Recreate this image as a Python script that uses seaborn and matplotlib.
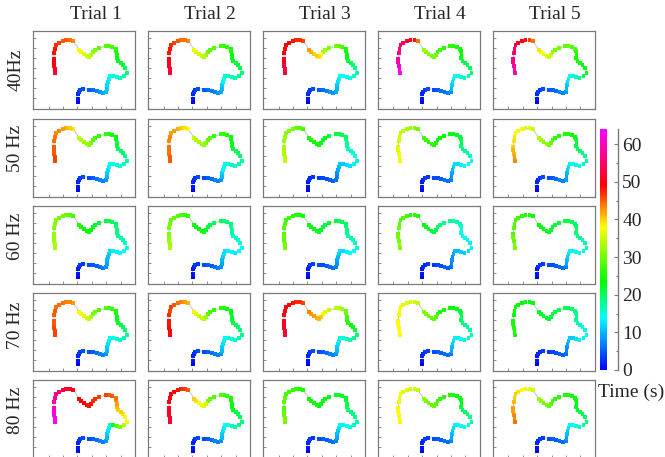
import matplotlib
matplotlib.use("Agg")
import matplotlib.pyplot as plt
from matplotlib.colors import LinearSegmentedColormap, Normalize
from matplotlib.cm import ScalarMappable
from matplotlib.ticker import MultipleLocator
import pandas as pd
import seaborn as sns

# Tracked route (same layout in every panel); y grows downward
path_x = [134, 134, 134, 137, 142, 151, 169, 181, 191, 201, 211, 220, 222, 223,
          225, 228, 231, 241, 251, 261, 273, 282, 277, 270, 263, 255, 251, 252,
          250, 248, 238, 227, 218, 199, 187, 180, 175, 169, 162, 153, 145, 139,
          121, 111, 99, 89, 77, 69, 66, 64, 62, 62, 64, 66, 67]
path_y = [215, 205, 190, 182, 176, 173, 176, 178, 181, 184, 186, 184, 173, 163,
          153, 143, 135, 134, 139, 141, 135, 125, 110, 103, 96, 91, 82, 71, 61,
          53, 47, 46, 46, 51, 57, 63, 72, 79, 76, 69, 62, 56, 31, 28, 28, 31, 36,
          43, 53, 65, 83, 94, 105, 115, 125]

freq_labels = ["40Hz", "50 Hz", "60 Hz", "70 Hz", "80 Hz"]
trial_labels = ["Trial 1", "Trial 2", "Trial 3", "Trial 4", "Trial 5"]

# Time stamp (s) of every point along the route, one list per trial
times_40hz = [
    [0, 1, 2, 3, 4, 4, 5, 6, 7, 8, 9, 10, 11, 12, 12, 13, 14, 15, 15, 16, 17, 19, 20, 21, 22, 22, 23, 24, 25, 26, 27, 28, 28, 29, 30, 31, 33, 34, 35, 36, 37, 38, 43, 44, 45, 45, 46, 47, 48, 48, 49, 50, 50, 51, 52],
    [0, 1, 2, 3, 3, 4, 5, 6, 7, 7, 8, 9, 10, 11, 13, 14, 15, 16, 16, 17, 18, 19, 20, 21, 21, 22, 23, 23, 24, 25, 26, 26, 27, 28, 28, 29, 32, 33, 34, 35, 36, 37, 43, 44, 44, 45, 46, 47, 48, 48, 49, 50, 51, 51, 52],
    [0, 1, 2, 3, 3, 4, 5, 6, 7, 8, 8, 9, 10, 11, 12, 13, 14, 14, 15, 15, 16, 17, 18, 19, 20, 21, 22, 23, 24, 25, 27, 28, 30, 31, 32, 33, 38, 39, 40, 40, 41, 42, 46, 47, 47, 48, 49, 49, 50, 50, 51, 51, 52, 52, 52],
    [0, 1, 2, 2, 3, 4, 4, 5, 6, 6, 7, 8, 10, 11, 12, 13, 14, 14, 15, 16, 17, 19, 20, 20, 21, 21, 22, 23, 23, 24, 25, 25, 26, 26, 27, 27, 29, 30, 30, 31, 31, 32, 44, 48, 51, 52, 54, 55, 56, 57, 58, 59, 60, 62, 63],
    [0, 1, 2, 3, 3, 4, 5, 5, 6, 7, 7, 8, 10, 11, 12, 13, 14, 15, 16, 18, 20, 22, 23, 23, 24, 24, 25, 25, 26, 27, 28, 29, 29, 30, 30, 31, 34, 35, 36, 37, 38, 39, 44, 46, 48, 50, 52, 53, 54, 55, 56, 57, 58, 59, 60],
]
times_50hz = [
    [0, 1, 2, 2, 3, 4, 4, 5, 6, 7, 7, 8, 10, 11, 12, 13, 14, 14, 15, 15, 16, 17, 18, 19, 19, 20, 21, 21, 22, 23, 24, 25, 26, 26, 27, 28, 30, 31, 32, 32, 33, 34, 39, 40, 41, 42, 43, 43, 44, 44, 45, 45, 45, 46, 46],
    [0, 1, 2, 2, 3, 4, 4, 5, 6, 7, 7, 8, 10, 11, 13, 14, 15, 15, 16, 16, 17, 18, 19, 20, 20, 21, 22, 22, 23, 24, 25, 26, 27, 27, 28, 29, 31, 31, 32, 33, 33, 34, 38, 39, 40, 41, 42, 42, 43, 43, 44, 44, 44, 45, 45],
    [0, 1, 1, 2, 2, 3, 3, 4, 4, 5, 5, 6, 7, 8, 9, 10, 11, 11, 12, 12, 13, 13, 14, 15, 16, 16, 17, 18, 19, 20, 20, 21, 21, 21, 22, 22, 23, 23, 24, 24, 25, 25, 27, 28, 29, 30, 31, 31, 32, 32, 33, 33, 33, 34, 34],
    [0, 1, 1, 2, 3, 3, 4, 4, 5, 6, 6, 7, 8, 9, 10, 11, 12, 12, 13, 14, 14, 15, 16, 17, 18, 19, 19, 20, 21, 22, 22, 23, 23, 23, 24, 24, 25, 25, 26, 26, 27, 27, 30, 31, 32, 33, 34, 34, 35, 35, 36, 36, 37, 37, 38],
    [0, 1, 2, 2, 3, 4, 4, 5, 6, 7, 7, 8, 9, 10, 11, 12, 13, 14, 15, 15, 16, 17, 18, 19, 19, 20, 21, 21, 22, 23, 24, 25, 25, 26, 26, 27, 29, 30, 31, 31, 32, 33, 35, 36, 36, 37, 38, 38, 39, 39, 40, 41, 41, 42, 43],
]
times_60hz = [
    [0, 1, 1, 2, 3, 3, 4, 5, 5, 6, 7, 8, 9, 10, 10, 11, 12, 13, 13, 14, 14, 15, 16, 17, 17, 18, 18, 19, 19, 20, 20, 21, 21, 21, 22, 22, 23, 23, 24, 24, 25, 25, 27, 28, 29, 30, 30, 31, 31, 31, 32, 32, 32, 33, 33],
    [0, 1, 1, 2, 3, 3, 4, 5, 5, 6, 7, 8, 9, 10, 11, 12, 12, 13, 13, 13, 14, 14, 15, 15, 16, 16, 17, 17, 18, 19, 19, 19, 20, 20, 21, 21, 22, 22, 23, 23, 24, 24, 26, 27, 27, 28, 29, 29, 30, 30, 31, 31, 32, 32, 33],
    [0, 1, 1, 2, 3, 3, 4, 4, 5, 6, 6, 7, 8, 9, 10, 11, 12, 12, 13, 14, 14, 15, 16, 16, 17, 17, 18, 18, 19, 20, 20, 20, 21, 21, 21, 21, 22, 22, 22, 23, 23, 23, 24, 25, 25, 26, 27, 27, 28, 28, 28, 29, 29, 30, 30],
    [0, 1, 1, 2, 2, 3, 3, 4, 4, 5, 5, 6, 7, 8, 8, 9, 10, 10, 11, 11, 12, 13, 13, 14, 14, 14, 15, 15, 16, 16, 17, 17, 18, 18, 19, 19, 20, 21, 21, 22, 22, 23, 25, 26, 26, 27, 28, 28, 29, 29, 29, 30, 30, 31, 31],
    [0, 1, 1, 2, 3, 3, 4, 4, 5, 6, 6, 7, 9, 10, 11, 12, 13, 13, 14, 15, 15, 16, 17, 17, 18, 18, 19, 19, 20, 20, 20, 21, 21, 21, 21, 21, 22, 22, 22, 23, 23, 23, 24, 25, 25, 26, 27, 27, 28, 28, 28, 29, 29, 30, 30],
]
times_70hz = [
    [0, 1, 2, 2, 3, 4, 4, 5, 6, 7, 7, 8, 10, 11, 12, 13, 14, 15, 15, 16, 17, 18, 19, 20, 21, 22, 22, 23, 24, 25, 26, 27, 28, 28, 29, 30, 33, 34, 35, 36, 37, 38, 42, 43, 43, 44, 44, 44, 45, 45, 45, 45, 46, 46, 46],
    [0, 1, 2, 2, 3, 4, 4, 5, 6, 7, 7, 8, 10, 11, 12, 13, 14, 15, 15, 16, 17, 18, 19, 19, 20, 21, 21, 22, 22, 23, 24, 25, 26, 26, 27, 28, 32, 33, 34, 35, 36, 37, 41, 42, 43, 44, 45, 46, 46, 47, 48, 48, 49, 49, 50],
    [0, 1, 2, 2, 3, 4, 4, 5, 6, 7, 7, 8, 10, 11, 12, 13, 14, 15, 16, 17, 18, 19, 21, 22, 24, 25, 26, 27, 29, 30, 32, 33, 34, 35, 36, 37, 40, 41, 41, 42, 42, 43, 46, 47, 47, 48, 49, 49, 50, 50, 51, 51, 51, 52, 52],
    [0, 1, 2, 2, 3, 3, 4, 5, 5, 6, 6, 7, 9, 10, 11, 12, 13, 13, 14, 15, 16, 17, 17, 18, 18, 19, 20, 20, 21, 22, 23, 23, 24, 25, 25, 26, 28, 29, 29, 30, 30, 31, 34, 35, 35, 36, 36, 37, 37, 37, 37, 38, 38, 38, 38],
    [0, 1, 1, 2, 2, 3, 3, 4, 4, 5, 5, 6, 7, 8, 9, 10, 11, 11, 12, 13, 13, 14, 15, 15, 16, 17, 17, 18, 18, 19, 19, 20, 20, 20, 21, 21, 21, 21, 22, 22, 22, 22, 23, 23, 23, 23, 24, 24, 24, 24, 24, 25, 25, 25, 25],
]
times_80hz = [
    [0, 1, 2, 2, 3, 4, 4, 5, 6, 7, 7, 8, 10, 11, 12, 13, 16, 22, 28, 30, 33, 37, 38, 39, 40, 40, 41, 42, 43, 44, 45, 45, 46, 46, 47, 47, 48, 48, 48, 49, 49, 49, 50, 51, 51, 52, 55, 57, 58, 59, 60, 61, 62, 63, 64],
    [0, 1, 2, 2, 3, 4, 4, 5, 6, 7, 7, 8, 10, 11, 12, 13, 14, 15, 16, 17, 18, 19, 20, 20, 21, 22, 23, 23, 24, 25, 26, 27, 28, 28, 29, 30, 35, 36, 37, 38, 39, 40, 45, 46, 47, 48, 49, 49, 50, 50, 51, 51, 51, 52, 52],
    [0, 1, 2, 2, 3, 3, 4, 5, 5, 6, 6, 7, 9, 10, 11, 12, 13, 13, 14, 15, 16, 17, 18, 18, 19, 19, 20, 21, 21, 22, 22, 22, 22, 23, 23, 23, 23, 23, 24, 24, 24, 24, 25, 25, 26, 26, 27, 27, 28, 28, 28, 29, 29, 30, 30],
    [0, 1, 2, 2, 3, 3, 4, 5, 5, 6, 6, 7, 9, 10, 11, 12, 13, 13, 14, 15, 16, 17, 18, 19, 20, 21, 21, 22, 23, 24, 24, 25, 25, 26, 26, 27, 28, 29, 29, 30, 30, 31, 34, 35, 35, 36, 36, 37, 37, 37, 37, 38, 38, 38, 38],
    [0, 1, 2, 2, 3, 3, 4, 5, 5, 6, 6, 7, 9, 10, 11, 12, 13, 14, 15, 16, 17, 19, 20, 20, 21, 22, 22, 23, 23, 24, 24, 25, 25, 26, 26, 27, 28, 29, 30, 30, 31, 32, 35, 36, 37, 38, 39, 40, 40, 41, 42, 42, 43, 43, 44],
]
all_times = [times_40hz, times_50hz, times_60hz, times_70hz, times_80hz]

# Colour scale for elapsed time
t_max = 64
cmap = LinearSegmentedColormap.from_list(
    "elapsed",
    [(0.0, "#0000ff"), (13.8 / t_max, "#00ffff"), (23.5 / t_max, "#00ff00"),
     (38 / t_max, "#ffff00"), (49 / t_max, "#ff0000"), (1.0, "#ff00ff")])
norm = Normalize(0, t_max)

sns.set_style("white")
plt.rcParams["font.family"] = ["Liberation Serif", "DejaVu Serif"]
plt.rcParams["font.size"] = 14

W, H = 665, 457
fig = plt.figure(figsize=(W / 100, H / 100), dpi=100)


def axes_px(left, top, width, height):
    return fig.add_axes([left / W, 1 - (top + height) / H, width / W, height / H])


frame_color = "#7a7a7a"
col_left = [33, 148, 263, 377.5, 492.5]
row_top = [31, 119, 206, 293, 380]
panel_w, panel_h = 102, 77.5

for r, times_row in enumerate(all_times):
    for c, times in enumerate(times_row):
        ax = axes_px(col_left[c], row_top[r], panel_w, panel_h)
        df = pd.DataFrame({"x": path_x, "y": path_y, "t": times})
        sns.lineplot(data=df, x="x", y="y", sort=False, estimator=None,
                     color="#b9b9b9", lw=0.6, ax=ax, zorder=1)
        sns.scatterplot(data=df, x="x", y="y", hue="t", palette=cmap,
                        hue_norm=norm, marker="s", s=8, linewidth=0,
                        legend=False, ax=ax, zorder=2)
        ax.set_xlim(0, 306)
        ax.set_ylim(233, 0)
        ax.set_xticks([47, 90, 133, 177, 220, 263])
        ax.set_yticks([22, 52, 82, 112, 142, 172, 202])
        ax.tick_params(direction="in", length=2, width=0.6, color=frame_color,
                       labelbottom=False, labelleft=False, bottom=True, left=True)
        ax.set_xlabel("")
        ax.set_ylabel("")
        for sp in ax.spines.values():
            sp.set_color(frame_color)
            sp.set_linewidth(0.9)

# Column and row headings
title_x = [96, 210, 325, 440, 555]
for c, lab in enumerate(trial_labels):
    fig.text(title_x[c] / W, 1 - 19 / H, lab, ha="center", va="baseline", fontsize=14)
label_y = [70, 148, 236, 325, 410]
for r, lab in enumerate(freq_labels):
    fig.text(16 / W, 1 - label_y[r] / H, lab, ha="center", va="center",
             rotation=90, fontsize=14)

# Colour bar
cax = axes_px(600, 129, 7, 241)
cbar = fig.colorbar(ScalarMappable(norm=norm, cmap=cmap), cax=cax)
cbar.outline.set_visible(False)
cax.spines["right"].set_visible(True)
cax.spines["right"].set_position(("outward", 8))
cax.spines["right"].set_color(frame_color)
cax.spines["right"].set_linewidth(1.0)
cbar.set_ticks([0, 10, 20, 30, 40, 50, 60])
cax.yaxis.set_minor_locator(MultipleLocator(5))
cax.tick_params(which="major", direction="in", length=3, width=0.8,
                color=frame_color, labelsize=14, pad=3)
cax.tick_params(which="minor", direction="in", length=1.5, width=0.8,
                color=frame_color)
fig.text(631 / W, 1 - 392 / H, "Time (s)", ha="center", va="center", fontsize=14)

fig.savefig("out.png", dpi=100)
